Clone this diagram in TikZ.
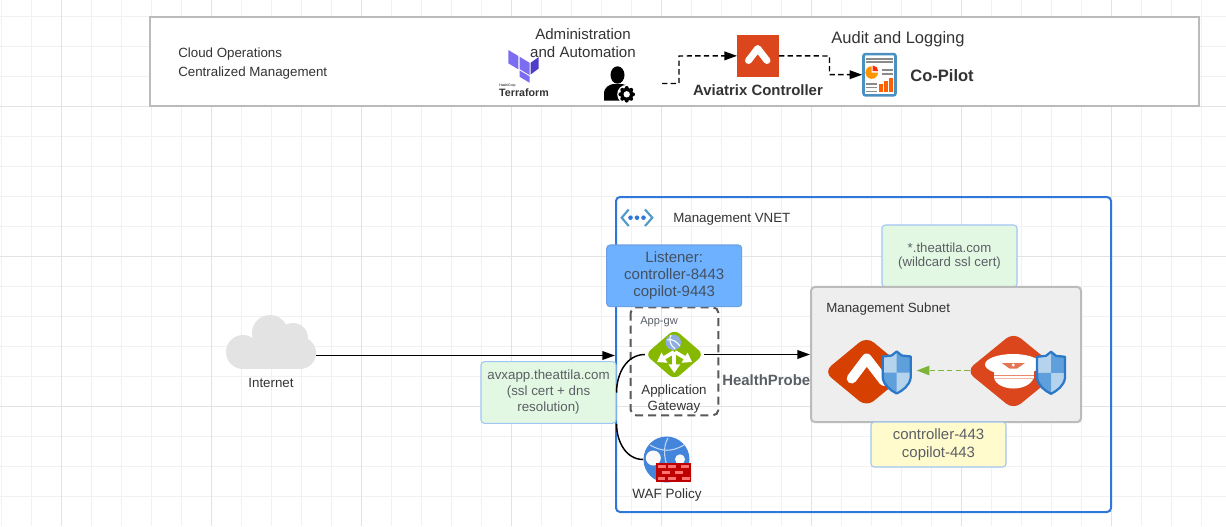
\documentclass[tikz,border=0pt]{standalone}
\usepackage{fontspec}
\setmainfont{Liberation Sans}
\usepackage{tikz}
\usetikzlibrary{arrows.meta,calc,shapes.geometric}

\definecolor{gridminor}{HTML}{F1F1F1}
\definecolor{gridmajor}{HTML}{E3E3E3}
\definecolor{framegray}{HTML}{BBBBBB}
\definecolor{vnetblue}{HTML}{2F77D8}
\definecolor{vneticon}{HTML}{4F9BC9}
\definecolor{listenerblue}{HTML}{6DB1FF}
\definecolor{notegreen}{HTML}{E3F8E2}
\definecolor{noteyellow}{HTML}{FFFBCC}
\definecolor{noteedge}{HTML}{A0C6F2}
\definecolor{avxorange}{HTML}{DC461D}
\definecolor{avxdeep}{HTML}{D64000}
\definecolor{gwgreen}{HTML}{86B800}
\definecolor{shieldedge}{HTML}{2B78C8}
\definecolor{shieldmid}{HTML}{5F9FDC}
\definecolor{shieldpale}{HTML}{B6D3EE}
\definecolor{inkdark}{HTML}{333333}
\definecolor{inknote}{HTML}{5A5F66}
\definecolor{listenerink}{HTML}{45505F}
\definecolor{tfpale}{HTML}{7B6CF0}
\definecolor{tfdeep}{HTML}{4F3FC8}
\definecolor{dashgreen}{HTML}{7CB53A}
\definecolor{reportedge}{HTML}{4A90C0}
\definecolor{reportline}{HTML}{8A8A8A}

\tikzset{
	shieldicon/.pic={
		\fill[shieldpale] (0,-21) -- (5,-17) -- (14,-16) -- (14,5) .. controls (13,13) and (6,18) .. (0,21) .. controls (-6,18) and (-13,13) .. (-14,5) -- (-14,-16) -- (-5,-17) -- cycle;
		\fill[shieldmid] (0,-21) -- (5,-17) -- (14,-16) -- (14,0) -- (0,0) -- cycle;
		\fill[shieldmid] (0,0) -- (0,21) .. controls (-6,18) and (-13,13) .. (-14,5) -- (-14,0) -- cycle;
		\draw[shieldedge, line width=1.7pt, line join=round] (0,-21) -- (5,-17) -- (14,-16) -- (14,5) .. controls (13,13) and (6,18) .. (0,21) .. controls (-6,18) and (-13,13) .. (-14,5) -- (-14,-16) -- (-5,-17) -- cycle;
	}
}

\begin{document}
\begin{tikzpicture}[x=.75pt, y=-.75pt]
	\tikzstyle{every node} = [inner sep=0pt, text=inkdark]
	\tikzstyle{notebox} = [draw=noteedge, line width=.8pt, rounded corners=2.5pt, text=inknote, align=center]
	\tikzstyle{framebox} = [draw=framegray, line width=1.5pt]
	\tikzstyle{wire} = [black, line width=1.1pt, -{Triangle[length=9.5pt,width=6.5pt]}]
	\tikzstyle{dashwire} = [black, line width=1.1pt, dash pattern=on 4pt off 2.5pt, -{Triangle[length=9.5pt,width=6.5pt,sep=0pt]}]
	\useasboundingbox (0,0) rectangle (1226,526);
	\fill[white] (0,0) rectangle (1226,526);
	\foreach \gx in {1.3,31.3,...,1226} \draw[gridminor, line width=.75pt] (\gx,0) -- (\gx,526);
	\foreach \gy in {16.3,46.3,...,526} \draw[gridminor, line width=.75pt] (0,\gy) -- (1226,\gy);
	\foreach \gx in {61.3,211.3,...,1226} \draw[gridmajor, line width=.75pt] (\gx,0) -- (\gx,526);
	\foreach \gy in {106.3,256.3,406.3} \draw[gridmajor, line width=.75pt] (0,\gy) -- (1226,\gy);

	\node[framebox, fill=white, minimum width=787.1pt, minimum height=66.75pt] (opsbox) at (674.25,61.5) {};
	\node[anchor=west, align=left, font=\fontsize{10}{13.6}\selectfont] (opslabel) at (178,63.5) {Cloud Operations\\Centralized Management};
	\node[align=center, font=\fontsize{11.3}{13.5}\selectfont] (adminlabel) at (583,43) {Administration\\and Automation};

	\fill[tfpale] (508.3,50) -- (518.3,56) -- (518.3,69.3) -- (508.3,63.3) -- cycle;
	\fill[tfpale] (519.5,56.7) -- (529.5,62.7) -- (529.5,75) -- (519.5,69) -- cycle;
	\fill[tfpale] (519.5,70.3) -- (529.5,76.3) -- (529.5,82.7) -- (519.5,76.7) -- cycle;
	\fill[tfdeep] (530.7,62.7) -- (538.7,57) -- (538.7,68.5) -- (530.7,74.5) -- cycle;
	\node[font=\fontsize{2.6}{3}\selectfont, anchor=west, text=black] (hashilabel) at (499,86) {HashiCorp};
	\node[font=\bfseries\fontsize{8}{10}\selectfont, text=inkdark] (terraformlabel) at (524,93) {Terraform};

	\fill[black] (617.5,75) ellipse [x radius=7, y radius=8.7];
	\fill[black] (604,100.5) -- (604,94) .. controls (604,87) and (609,85) .. (613,84) -- (622,84) .. controls (627,85) and (631,87) .. (632,92) -- (632,100.5) -- cycle;
	\fill[white] (626.7,94.3) circle [radius=9.5];
	\foreach \ga in {0,45,...,315} \fill[black] ($(626.7,94.3)+(\ga:6.3)$) circle [radius=2];
	\fill[black] (626.7,94.3) circle [radius=6.5];
	\fill[white] (626.7,94.3) circle [radius=3.2];
	\coordinate (adminout) at (662,83.5);

	\node[fill=avxorange, minimum width=31pt, minimum height=31.2pt] (ctrlsquare) at (758,55.85) {};
	\draw[white, line width=5.2pt, line cap=round, line join=round] (748.5,60.5) -- (757.7,48.5) -- (767,60.5);
	\node[font=\bfseries\fontsize{11.2}{13}\selectfont] (ctrllabel) at (758,90.5) {Aviatrix Controller};
	\node[font=\fontsize{12.4}{14}\selectfont] (auditlabel) at (898,39) {Audit and Logging};

	\node[draw=reportedge, line width=1.9pt, fill=white, rounded corners=1.5pt, minimum width=24pt, minimum height=31pt] (reporticon) at (879.5,74.7) {};
	\foreach \ly in {58.7,62} \draw[reportline, line width=1.2pt] (865.7,\ly) -- (893.3,\ly);
	\foreach \ly in {69.7,74} \draw[reportline, line width=1.2pt] (881.7,\ly) -- (893.3,\ly);
	\foreach \ly in {84,87.5,91.3} \draw[reportline, line width=1.2pt] (865.7,\ly) -- (876.7,\ly);
	\fill[orange!85!yellow] (871.7,72.5) circle [radius=6.3];
	\fill[white] (871.7,72.5) -- (871.7,65.5) arc[start angle=-90, end angle=0, radius=7] -- cycle;
	\fill[red!65!orange] (872.7,71) -- (872.7,65.5) arc[start angle=-90, end angle=0, radius=5.5] -- cycle;
	\fill[orange!75!red] (879,84) rectangle (882.7,92);
	\fill[orange!75!red] (884.3,81.3) rectangle (887.7,92);
	\fill[orange!75!red] (889,78) rectangle (893.3,92);
	\node[font=\bfseries\fontsize{12.4}{14}\selectfont] (copilotlabel) at (942,76) {Co-Pilot};

	\draw[dashwire] (adminout) -| (679,56) -- (ctrlsquare.west);
	\draw[dashwire] (ctrlsquare.east) -- (829.5,56) |- (reporticon.west);

	\fill[gray!22] (243,352) circle [radius=17];
	\fill[gray!22] (270,333) circle [radius=18];
	\fill[gray!22] (293,338) circle [radius=15];
	\fill[gray!22] (300,353) circle [radius=16];
	\fill[gray!22] (243,340) rectangle (300,369);
	\coordinate (cloudout) at (316,355.5);
	\node[font=\fontsize{10}{12}\selectfont] (internetlabel) at (271,382.5) {Internet};

	\node[draw=vnetblue, line width=1.5pt, rounded corners=3pt, minimum width=371.25pt, minimum height=236.25pt] (vnetbox) at (863.5,354.5) {};
	\draw[vneticon, line width=1.6pt] (628.7,209.5) -- (621.7,217.7) -- (628.7,226);
	\draw[vneticon, line width=1.6pt] (645,209.5) -- (652.3,217.7) -- (645,226);
	\foreach \dx in {630.5,637,643.5} \fill[vnetblue] (\dx,217.7) circle [radius=2.3];
	\node[anchor=west, font=\fontsize{10}{12}\selectfont] (vnetlabel) at (673,219.5) {Management VNET};

	\node[notebox, fill=notegreen, minimum width=101.25pt, minimum height=46.5pt, font=\fontsize{9.9}{11.25}\selectfont] (wildnote) at (949.5,256) {\raisebox{-1pt}{*.theattila.com}\\[.3pt](wildcard ssl cert)};

	\node[font=\bfseries\fontsize{11.2}{13}\selectfont, text=inknote, anchor=west] (probelabel) at (722,380) {HealthProbe};

	\node[framebox, fill=black!6.5, rounded corners=3pt, minimum width=202.5pt, minimum height=101.5pt] (subnetbox) at (946,354.5) {};
	\node[anchor=west, font=\fontsize{10}{12}\selectfont] (subnetlabel) at (826,309.5) {Management Subnet};

	\draw[dash pattern=on 6pt off 3.8pt, black!65, line width=1.5pt, rounded corners=4pt] (630.7,307.3) rectangle (718.3,415.3);
	\node[anchor=west, font=\fontsize{8.3}{10}\selectfont, text=inknote] (gwtag) at (640,322) {App-gw};

	\node[diamond, fill=gwgreen, rounded corners=5pt, minimum width=44pt, minimum height=38pt] (gwicon) at (674.5,354.5) {};
	\fill[cyan!50!blue!45!white] (673.3,342.3) circle [radius=7.7];
	\draw[white, line width=.8pt] (667,340) .. controls (672,338) and (677,342) .. (680,346);
	\draw[white, line width=.8pt] (671,335) .. controls (668,340) and (671,346) .. (675,349);
	\draw[white, line width=2.8pt, -{Triangle[length=6.5pt,width=8.5pt]}] (674.3,352) -- (674.3,373);
	\draw[white, line width=2.8pt, -{Triangle[length=6.5pt,width=8.5pt]}] (674,352) -- (657,362);
	\draw[white, line width=2.8pt, -{Triangle[length=6.5pt,width=8.5pt]}] (675,352) -- (692,362);
	\node[align=center, font=\fontsize{10}{12}\selectfont] (gwlabel) at (674,399.5) {Application\\Gateway};

	\node[circle, fill=vnetblue!90!white, minimum size=34.5pt] (wafglobe) at (666.5,459.5) {};
	\draw[white!70!vnetblue, line width=.8pt] (650,445) .. controls (662,452) and (672,452) .. (684,445);
	\draw[white!70!vnetblue, line width=.8pt] (668,438) .. controls (662,448) and (664,462) .. (672,478);
	\fill[white!95!gray] (653.3,458) circle [radius=7.5];
	\fill[white!95!gray] (680,459.3) circle [radius=5];
	\fill[red!75!black] (656,463.3) rectangle (690.7,481.7);
	\foreach \bx/\by in {658/465,668/465,681/465,662/470.8,675/470.8,657.5/476.5,668/476.5,682/476.5} \fill[red!55!white] (\bx,\by) rectangle +(7.5,3.4);
	\node[font=\fontsize{10.1}{12}\selectfont] (waflabel) at (667,495.5) {WAF Policy};

	\node[notebox, fill=notegreen, minimum width=101.25pt, minimum height=46.2pt, font=\fontsize{10}{12}\selectfont] (avxnote) at (548.5,392.5) {avxapp.theattila.com\\(ssl cert + dns\\resolution)};
	\node[notebox, draw=vnetblue!70!white, fill=listenerblue, text=listenerink, minimum width=101.25pt, minimum height=46.25pt, font=\fontsize{11.25}{13.1}\selectfont] (listenerbox) at (674.2,275.85) {\raisebox{-1pt}{Listener:}\\controller-8443\\copilot-9443};
	\node[notebox, fill=noteyellow, minimum width=101.25pt, minimum height=33.75pt, font=\fontsize{11.2}{13.3}\selectfont] (portnote) at (938.5,444.5) {controller-443\\copilot-443};

	\draw[wire] (cloudout) -- (cloudout -| vnetbox.west);
	\draw[wire] (gwicon.east) -- (gwicon.east -| subnetbox.west);
	\draw[black, line width=1.1pt] (gwicon.west) to[out=180, in=90] (avxnote.east);
	\draw[black, line width=1.1pt] (avxnote.south east) to[out=-90, in=180] (wafglobe.west);

	\coordinate (shieldstop) at (916.7,370.5);
	\draw[dashgreen, line width=1.1pt, dash pattern=on 4pt off 2.5pt, -{Triangle[length=9.5pt,width=7pt,sep=0pt]}] (1013,370.5) -- (shieldstop);

	\node[diamond, fill=avxdeep, rounded corners=7pt, minimum width=64pt, minimum height=53pt] (ctrldiamond) at (866.5,371.7) {};
	\draw[white, line width=7.5pt, line cap=round, line join=round] (851.7,378.5) -- (866.7,358.5) -- (884,381);
	\pic at (896.7,372.5) {shieldicon};

	\node[diamond, fill=avxorange, rounded corners=7pt, minimum width=71pt, minimum height=58pt] (hatdiamond) at (1013.5,371) {};
	\fill[white] (1013,364.5) ellipse [x radius=28, y radius=10.5];
	\fill[white] (994,368) rectangle (1033.5,379);
	\fill[white] (994,378) .. controls (996,385) and (1005,388.5) .. (1013.5,388.5) .. controls (1022,388.5) and (1031,385) .. (1033.5,378) -- cycle;
	\fill[avxorange!65!white] (994,374.5) rectangle (1033.5,376.3);
	\fill[avxorange!40!white] (994,377.5) rectangle (1033.5,379);
	\fill[avxorange!75!white] (1001.7,363) -- (1025,363) -- (1017,368.5) -- (1009.5,368.5) -- cycle;
	\fill[white] (1013.3,365) circle [radius=1.6];
	\pic at (1051,372.8) {shieldicon};
\end{tikzpicture}
\end{document}
